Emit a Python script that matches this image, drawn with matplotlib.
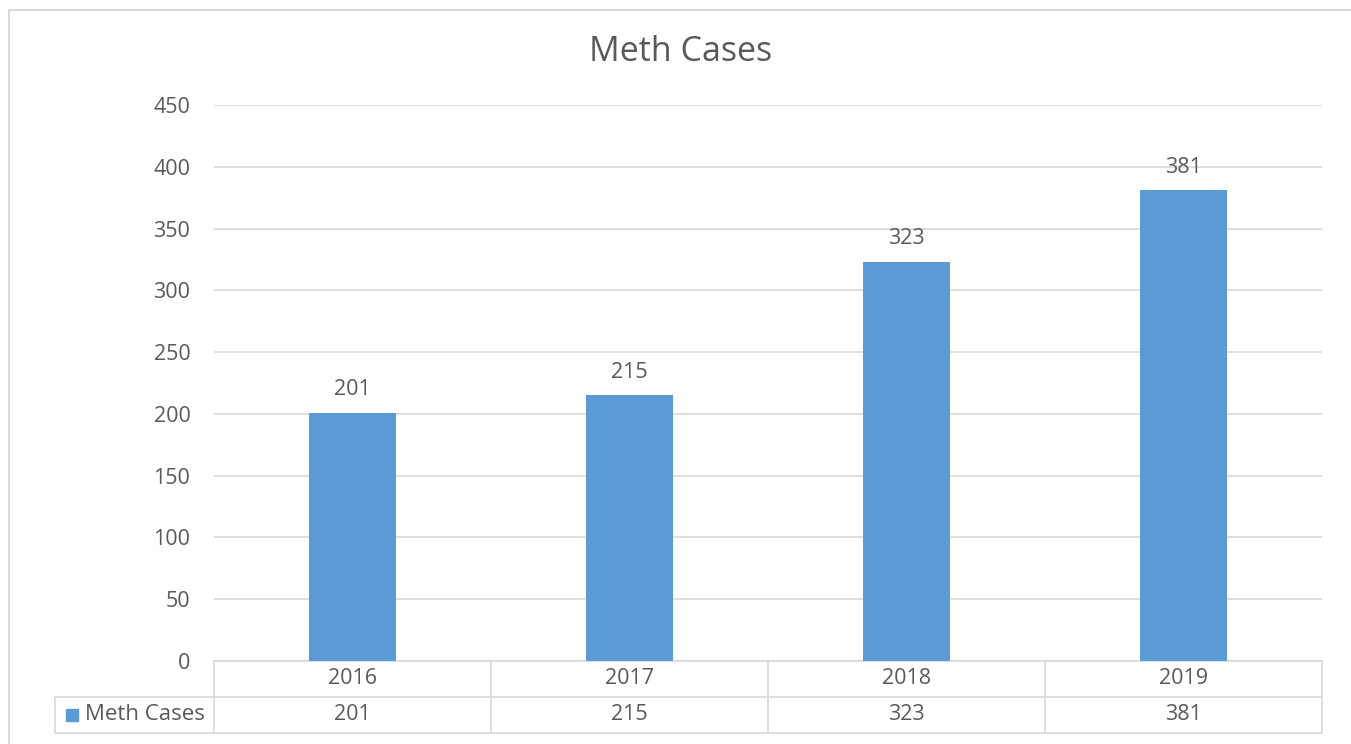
import matplotlib
matplotlib.use("Agg")
from matplotlib import pyplot as plt
from matplotlib.patches import Rectangle

years = ['2016', '2017', '2018', '2019']
cases = [201, 215, 323, 381]
series_name = 'Meth Cases'
yticks = [0, 50, 100, 150, 200, 250, 300, 350, 400, 450]

bar_color = '#5b9bd5'
grid_color = '#d9d9d9'
text_color = '#595959'
fs = 15.5

plt.rcParams['font.family'] = ['Open Sans', 'DejaVu Sans']

W, H = 1351, 744
fig = plt.figure(figsize=(W / 100, H / 100), dpi=100)
fig.patch.set_facecolor('white')

# outer chart border (runs off the right/bottom edge in the reference)
fig.patches.append(Rectangle((9 / W, -0.1), 1.2, 1 - 10 / H + 0.1,
                             transform=fig.transFigure, fill=False,
                             edgecolor=grid_color, linewidth=1.5))

left, right, top, bottom = 214, 1322, 105, 661
ax = fig.add_axes([left / W, 1 - bottom / H, (right - left) / W, (bottom - top) / H])

x = list(range(len(years)))
bars = ax.bar(x, cases, width=0.315, color=bar_color, zorder=3)
ax.bar_label(bars, labels=[str(v) for v in cases], padding=9,
             fontsize=fs, color=text_color)

ax.set_xlim(-0.5, len(years) - 0.5)
ax.set_ylim(0, 450)
ax.set_yticks(yticks)
ax.set_yticklabels([str(t) for t in yticks], fontsize=fs, color=text_color)
ax.tick_params(axis='y', length=0, pad=17)
ax.set_xticks([])
ax.grid(axis='y', color=grid_color, linewidth=1.2, zorder=0)
for s in ax.spines.values():
    s.set_visible(False)

# data table under the plot
row_h = 36 / (bottom - top)
lab_w = (left - 55) / (right - left)
lkw = dict(color=grid_color, linewidth=1.2, clip_on=False, transform=ax.transAxes)
ax.plot([0, 1], [0, 0], **lkw)
ax.plot([-lab_w, 1], [-row_h, -row_h], **lkw)
ax.plot([-lab_w, 1], [-2 * row_h, -2 * row_h], **lkw)
ax.plot([-lab_w, -lab_w], [-row_h, -2 * row_h], **lkw)
n = len(years)
for i in range(n + 1):
    ax.plot([i / n, i / n], [0, -2 * row_h], **lkw)
for i, (yr, v) in enumerate(zip(years, cases)):
    ax.text((i + 0.5) / n, -0.5 * row_h, yr, transform=ax.transAxes,
            ha='center', va='center', fontsize=fs, color=text_color)
    ax.text((i + 0.5) / n, -1.5 * row_h, str(v), transform=ax.transAxes,
            ha='center', va='center', fontsize=fs, color=text_color)

# legend key inside the row label cell
key_x = (66 - left) / (right - left)
key_w = 12 / (right - left)
key_h = 12 / (bottom - top)
ax.add_patch(Rectangle((key_x, -1.5 * row_h - key_h / 2), key_w, key_h,
                       transform=ax.transAxes, color=bar_color, clip_on=False))
ax.text((85 - left) / (right - left), -1.5 * row_h, series_name,
        transform=ax.transAxes, ha='left', va='center', fontsize=fs + 0.5,
        color=text_color)

fig.text(681 / W, 1 - 52 / H, series_name, ha='center', va='center',
         fontsize=24.5, color=text_color)

fig.savefig('out.png', dpi=100)
